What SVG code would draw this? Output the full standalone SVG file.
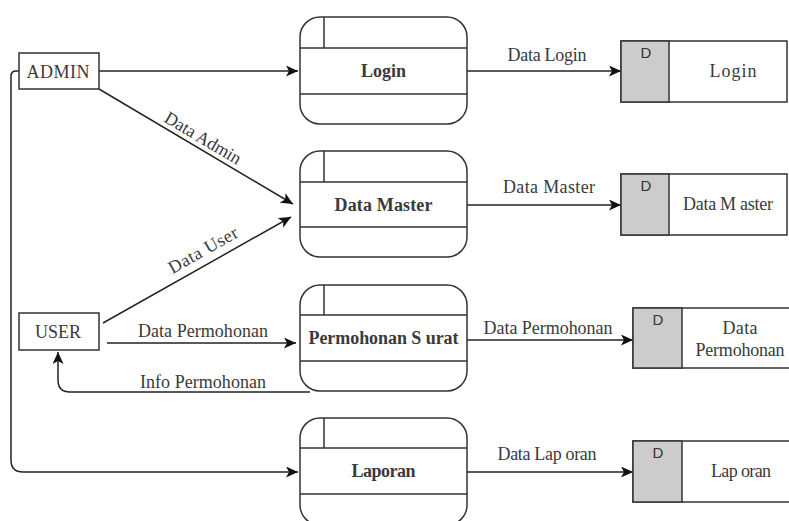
<svg xmlns="http://www.w3.org/2000/svg" width="789" height="521" viewBox="0 0 789 521">
<defs>
<marker id="arr" markerWidth="13" markerHeight="11" refX="12" refY="5.5" orient="auto" markerUnits="userSpaceOnUse">
<path d="M0,0 L12,5.5 L0,11 L3,5.5 Z" fill="#111"/>
</marker>
<style>
.proc{fill:#fff;stroke:#333;stroke-width:1.5}
.div{stroke:#333;stroke-width:1.5;fill:none}
.ent{fill:#fff;stroke:#333;stroke-width:1.5}
.st{fill:#fff;stroke:#333;stroke-width:1.5}
.stg{fill:#cccccc;stroke:#333;stroke-width:1.5}
.conn{fill:none;stroke:#222;stroke-width:1.5}
.t{font-family:"Liberation Serif","Times New Roman",serif;font-size:18px;fill:#3a3a3a;text-anchor:middle}
.b{font-family:"Liberation Serif","Times New Roman",serif;font-size:18px;font-weight:bold;fill:#3a3a3a;text-anchor:middle}
.d{font-family:"Liberation Sans",Arial,sans-serif;font-size:15px;fill:#333;text-anchor:middle}
</style>
</defs>
<rect width="789" height="521" fill="#fff"/>

<g id="connectors">
<path class="conn" d="M99,71 H298" marker-end="url(#arr)"/>
<path class="conn" d="M467,71 H621" marker-end="url(#arr)"/>
<path class="conn" d="M99,89 L293,204" marker-end="url(#arr)"/>
<path class="conn" d="M103,323 L291,217" marker-end="url(#arr)"/>
<path class="conn" d="M467,205 H621" marker-end="url(#arr)"/>
<path class="conn" d="M107,343 H296" marker-end="url(#arr)"/>
<path class="conn" d="M467,340 H633" marker-end="url(#arr)"/>
<path class="conn" d="M310,392 H70 Q58,392 58,380 V352" marker-end="url(#arr)"/>
<path class="conn" d="M19,71 H16 Q11,71 11,76 V460 Q11,472 23,472 H298" marker-end="url(#arr)"/>
<path class="conn" d="M467,472 H633" marker-end="url(#arr)"/>
<text class="t" x="547" y="61" textLength="79" lengthAdjust="spacing">Data Login</text>
<text class="t" x="549" y="193" textLength="92" lengthAdjust="spacing">Data Master</text>
<text class="t" x="548" y="334" textLength="129" lengthAdjust="spacing">Data Permohonan</text>
<text class="t" x="547" y="460" textLength="99" lengthAdjust="spacing">Data Lap oran</text>
<text class="t" x="203" y="337" textLength="130" lengthAdjust="spacing">Data Permohonan</text>
<text class="t" x="203" y="388" textLength="126" lengthAdjust="spacing">Info Permohonan</text>
<text class="t" transform="translate(203,138) rotate(30.6)" x="0" y="6" textLength="86" lengthAdjust="spacing">Data Admin</text>
<text class="t" transform="translate(203,250) rotate(-29.5)" x="0" y="6" textLength="77" lengthAdjust="spacing">Data User</text>
</g>

<g id="admin">
<rect class="ent" x="19" y="53" width="80" height="36"/>
<text class="t" x="58" y="78" textLength="63" lengthAdjust="spacing">ADMIN</text>
</g>
<g id="user">
<rect class="ent" x="19" y="313" width="80" height="37"/>
<text class="t" x="58" y="338" textLength="46" lengthAdjust="spacing">USER</text>
</g>

<g id="proc-login">
<rect class="proc" x="300" y="17" width="167" height="107" rx="20"/>
<path class="div" d="M300,48 H467 M300,94 H467 M324,17 V48"/>
<text class="b" x="383.5" y="77">Login</text>
</g>
<g id="proc-datamaster">
<rect class="proc" x="300" y="151" width="167" height="106" rx="20"/>
<path class="div" d="M300,182 H467 M300,227 H467 M324,151 V182"/>
<text class="b" x="383.5" y="211" textLength="98" lengthAdjust="spacing">Data Master</text>
</g>
<g id="proc-permohonan">
<rect class="proc" x="300" y="285" width="167" height="106" rx="20"/>
<path class="div" d="M300,315 H467 M300,361 H467 M324,285 V315"/>
<text class="b" x="383.5" y="344" textLength="150" lengthAdjust="spacing">Permohonan S urat</text>
</g>
<g id="proc-laporan">
<rect class="proc" x="300" y="418" width="167" height="107" rx="20"/>
<path class="div" d="M300,448 H467 M300,494 H467 M324,418 V448"/>
<text class="b" x="383.5" y="477" textLength="64" lengthAdjust="spacing">Laporan</text>
</g>

<g id="store-login">
<rect class="st" x="621" y="41" width="166" height="61"/>
<rect class="stg" x="621" y="41" width="48" height="61"/>
<text class="d" x="646" y="58">D</text>
<text class="t" x="733" y="77" textLength="47" lengthAdjust="spacing">Login</text>
</g>
<g id="store-datamaster">
<rect class="st" x="621" y="174" width="166" height="61"/>
<rect class="stg" x="621" y="174" width="48" height="61"/>
<text class="d" x="646" y="191">D</text>
<text class="t" x="728" y="210" textLength="90" lengthAdjust="spacing">Data M aster</text>
</g>
<g id="store-datapermohonan">
<rect class="st" x="633" y="308" width="166" height="60"/>
<rect class="stg" x="633" y="308" width="49" height="60"/>
<text class="d" x="658" y="325">D</text>
<text class="t" x="740" y="334" textLength="35" lengthAdjust="spacing">Data</text>
<text class="t" x="740" y="356" textLength="89" lengthAdjust="spacing">Permohonan</text>
</g>
<g id="store-laporan">
<rect class="st" x="633" y="441" width="166" height="61"/>
<rect class="stg" x="633" y="441" width="49" height="61"/>
<text class="d" x="658" y="458">D</text>
<text class="t" x="741" y="477" textLength="60" lengthAdjust="spacing">Lap oran</text>
</g>
</svg>
